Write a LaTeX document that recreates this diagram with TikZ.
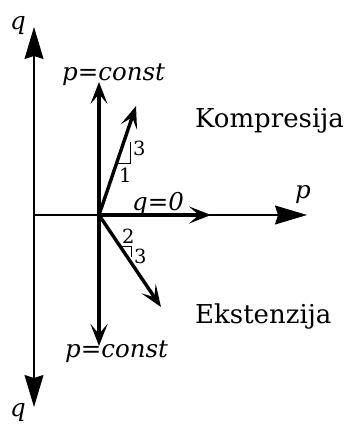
\documentclass[tikz,border=0pt]{standalone}
\usepackage{fontspec}
\setmainfont{DejaVu Serif}
\usetikzlibrary{arrows.meta}
\tikzset{
  axis/.style={line width=1.1pt,-{Stealth[length=32pt,width=19pt,inset=3pt]}},
  vec/.style={line width=3.4pt,-{Stealth[length=22pt,width=17pt,inset=10pt]}},
  slopemark/.style={line width=0.8pt},
  lbl/.style={anchor=base west,inner sep=0pt,font=\fontsize{26}{30}\selectfont},
  ilbl/.style={anchor=base west,inner sep=0pt,font=\fontsize{24.5}{30}\selectfont\itshape},
  dig/.style={anchor=base west,inner sep=0pt,font=\fontsize{19.5}{22}\selectfont},
}
\begin{document}
\begin{tikzpicture}[x=1pt,y=-1pt]
\useasboundingbox (0,0) rectangle (351,424);
% axes
\coordinate (A) at (34,215);
\coordinate (QT) at (34,27);
\coordinate (QB) at (34,407);
\coordinate (PR) at (307,215);
\draw[axis] (A) -- (QT);
\draw[axis] (A) -- (QB);
\draw[axis] (A) -- (PR);
% vectors
\coordinate (O) at (99,215);
\coordinate (U) at (99,82);
\coordinate (D) at (99,346);
\coordinate (C) at (136,106);
\coordinate (R) at (211,215);
\coordinate (E) at (161,307);
\draw[vec] (O) -- (U);
\draw[vec] (O) -- (D);
\draw[vec] (O) -- (C);
\draw[vec] (O) -- (R);
\draw[vec] (O) -- (E);
% slope marks
\coordinate (m1) at (118,163);
\coordinate (m2) at (130,163);
\coordinate (m3) at (130,142);
\draw[slopemark] (m1) -- (m2) -- (m3);
\coordinate (n1) at (120,246);
\coordinate (n2) at (131,246);
\coordinate (n3) at (131,257);
\draw[slopemark] (n1) -- (n2) -- (n3);
% labels
\node[ilbl] (lqt) at (10,29) {q};
\node[ilbl] (lqb) at (10,416) {q};
\node[ilbl] (lp) at (295,198) {p};
\node[ilbl] (lpc1) at (62,80) {p=const};
\node[ilbl] (lpc2) at (65,357) {p=const};
\node[ilbl] (lq0) at (132,210) {q=0};
\node[lbl] (lk) at (195,127) {Kompresija};
\node[lbl] (le) at (195,323) {Ekstenzija};
\node[dig] (d3a) at (133,155) {3};
\node[dig] (d1) at (119,182) {1};
\node[dig] (d2) at (122,243) {2};
\node[dig] (d3b) at (134,263) {3};
\end{tikzpicture}
\end{document}
